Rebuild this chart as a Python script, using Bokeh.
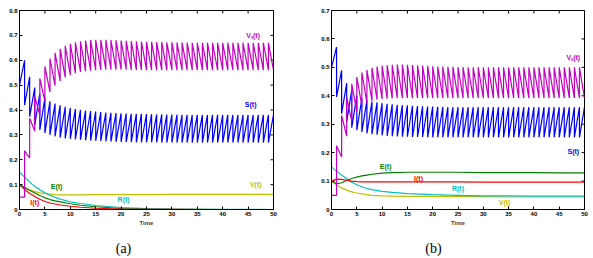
import math
from bokeh.plotting import figure
from bokeh.layouts import row, column
from bokeh.models import FixedTicker, Range1d
from bokeh.embed import file_html
from bokeh.resources import INLINE
from bokeh.core.properties import value

# ---------------- data ----------------
x_ticks = [0, 5, 10, 15, 20, 25, 30, 35, 40, 45, 50]
y_ticks_a = [0, 0.1, 0.2, 0.3, 0.4, 0.5, 0.6, 0.7, 0.8]
y_labels_a = ["0", "0.1", "0.2", "0.3", "0.4", "0.5", "0.6", "0.7", "0.8"]
y_ticks_b = [0, 0.1, 0.2, 0.3, 0.4, 0.5, 0.6, 0.7]
y_labels_b = ["0", "0.1", "0.2", "0.3", "0.4", "0.5", "0.6", "0.7"]

# impulsive series: value right after the pulse at t=k and value just before t=k+1
S_a_start = [0.500, 0.420, 0.373, 0.340, 0.320, 0.308, 0.300, 0.294, 0.289, 0.286,
             0.284, 0.282, 0.280, 0.278, 0.277, 0.276, 0.275, 0.274, 0.273, 0.272,
             0.272, 0.271, 0.271, 0.270, 0.270, 0.270, 0.270, 0.270, 0.269, 0.269,
             0.269, 0.269, 0.269, 0.269, 0.269, 0.269, 0.269, 0.269, 0.269, 0.269,
             0.269, 0.269, 0.269, 0.269, 0.269, 0.269, 0.269, 0.269, 0.269, 0.269]
S_a_end = [0.600, 0.533, 0.490, 0.467, 0.448, 0.435, 0.426, 0.419, 0.413, 0.408,
           0.404, 0.401, 0.398, 0.396, 0.394, 0.392, 0.390, 0.389, 0.388, 0.387,
           0.386, 0.385, 0.384, 0.384, 0.383, 0.383, 0.382, 0.382, 0.381, 0.381,
           0.381, 0.380, 0.380, 0.380, 0.380, 0.380, 0.380, 0.380, 0.380, 0.380,
           0.380, 0.380, 0.380, 0.380, 0.380, 0.380, 0.380, 0.380, 0.380, 0.380]
Vs_a_start = [0.050, 0.236, 0.367, 0.455, 0.527, 0.575, 0.607, 0.630, 0.646, 0.658,
              0.666, 0.672, 0.676, 0.679, 0.681, 0.682, 0.682, 0.682, 0.681, 0.680,
              0.679, 0.678, 0.677, 0.676, 0.675, 0.674, 0.674, 0.673, 0.673, 0.672,
              0.672, 0.671, 0.671, 0.671, 0.670, 0.670, 0.670, 0.670, 0.670, 0.670,
              0.670, 0.670, 0.670, 0.670, 0.670, 0.670, 0.670, 0.670, 0.670, 0.670]
Vs_a_end = [0.050, 0.207, 0.315, 0.380, 0.435, 0.472, 0.498, 0.517, 0.531, 0.541,
            0.548, 0.553, 0.556, 0.558, 0.560, 0.561, 0.562, 0.562, 0.562, 0.562,
            0.562, 0.561, 0.561, 0.561, 0.560, 0.560, 0.560, 0.560, 0.560, 0.560,
            0.560, 0.560, 0.560, 0.560, 0.560, 0.560, 0.560, 0.560, 0.560, 0.560,
            0.560, 0.560, 0.560, 0.560, 0.560, 0.560, 0.560, 0.560, 0.560, 0.560]

S_b_start = [0.500, 0.396, 0.337, 0.308, 0.288, 0.279, 0.273, 0.268, 0.265, 0.263,
             0.261, 0.259, 0.258, 0.257, 0.256, 0.256, 0.255, 0.255, 0.255, 0.254,
             0.254, 0.254, 0.254, 0.254, 0.254, 0.254, 0.254, 0.254, 0.254, 0.254,
             0.254, 0.254, 0.254, 0.254, 0.254, 0.254, 0.254, 0.254, 0.254, 0.254,
             0.254, 0.254, 0.254, 0.254, 0.254, 0.254, 0.254, 0.254, 0.254, 0.254]
S_b_end = [0.571, 0.489, 0.445, 0.420, 0.400, 0.390, 0.384, 0.380, 0.377, 0.374,
           0.372, 0.370, 0.368, 0.367, 0.366, 0.365, 0.364, 0.363, 0.362, 0.362,
           0.361, 0.361, 0.360, 0.360, 0.360, 0.360, 0.360, 0.360, 0.360, 0.360,
           0.360, 0.360, 0.360, 0.360, 0.360, 0.360, 0.360, 0.360, 0.360, 0.360,
           0.360, 0.360, 0.360, 0.360, 0.360, 0.360, 0.360, 0.360, 0.360, 0.360]
Vs_b_start = [0.050, 0.224, 0.331, 0.395, 0.442, 0.466, 0.482, 0.491, 0.498, 0.503,
              0.506, 0.508, 0.509, 0.510, 0.510, 0.509, 0.508, 0.507, 0.506, 0.505,
              0.504, 0.503, 0.503, 0.502, 0.502, 0.501, 0.501, 0.500, 0.500, 0.500,
              0.500, 0.500, 0.500, 0.500, 0.500, 0.500, 0.500, 0.500, 0.500, 0.500,
              0.500, 0.500, 0.500, 0.500, 0.500, 0.500, 0.500, 0.500, 0.500, 0.500]
Vs_b_end = [0.050, 0.185, 0.258, 0.310, 0.345, 0.365, 0.375, 0.382, 0.386, 0.389,
            0.390, 0.391, 0.392, 0.392, 0.392, 0.392, 0.392, 0.392, 0.392, 0.392,
            0.392, 0.392, 0.392, 0.392, 0.392, 0.392, 0.392, 0.392, 0.392, 0.392,
            0.392, 0.392, 0.392, 0.392, 0.392, 0.392, 0.392, 0.392, 0.392, 0.392,
            0.392, 0.392, 0.392, 0.392, 0.392, 0.392, 0.392, 0.392, 0.392, 0.392]

# smooth compartments
t_smooth = [0, 1, 2, 3, 4, 5, 6, 7, 8, 10, 12, 15, 20, 25, 30, 35, 40, 45, 50]
E_a = [0.100, 0.088, 0.077, 0.066, 0.056, 0.047, 0.040, 0.035, 0.031, 0.023, 0.017, 0.011, 0.004, 0.0015, 0.0005, 0.0002, 0, 0, 0]
I_a = [0.100, 0.080, 0.065, 0.052, 0.041, 0.032, 0.026, 0.022, 0.018, 0.013, 0.009, 0.005, 0.0015, 0.0005, 0.0002, 0, 0, 0, 0]
R_a = [0.150, 0.130, 0.110, 0.093, 0.079, 0.067, 0.057, 0.049, 0.042, 0.031, 0.024, 0.016, 0.008, 0.004, 0.002, 0.001, 0.0005, 0.0002, 0]
V_a = [0.100, 0.088, 0.079, 0.072, 0.067, 0.064, 0.062, 0.060, 0.059, 0.059, 0.059, 0.060, 0.060, 0.060, 0.061, 0.061, 0.061, 0.061, 0.061]

E_b = [0.100, 0.090, 0.094, 0.102, 0.109, 0.114, 0.118, 0.121, 0.124, 0.128, 0.130, 0.131, 0.131, 0.131, 0.130, 0.130, 0.130, 0.129, 0.129]
I_b = [0.100, 0.107, 0.106, 0.103, 0.100, 0.098, 0.097, 0.097, 0.097, 0.097, 0.097, 0.097, 0.097, 0.097, 0.096, 0.096, 0.096, 0.096, 0.096]
R_b = [0.150, 0.135, 0.121, 0.108, 0.096, 0.087, 0.080, 0.074, 0.070, 0.064, 0.060, 0.056, 0.052, 0.050, 0.048, 0.048, 0.047, 0.047, 0.047]
V_b = [0.100, 0.087, 0.076, 0.068, 0.062, 0.058, 0.055, 0.052, 0.050, 0.048, 0.047, 0.046, 0.045, 0.045, 0.045, 0.044, 0.044, 0.044, 0.044]

names = ["Vₛ(t)", "S(t)", "E(t)", "I(t)", "R(t)", "V(t)"]
label_x_a = [46.0, 45.5, 7.3, 3.0, 20.5, 46.5]
label_y_a = [0.700, 0.424, 0.092, 0.028, 0.040, 0.100]
label_x_b = [47.8, 47.8, 10.7, 17.2, 25.0, 34.2]
label_y_b = [0.535, 0.205, 0.153, 0.110, 0.075, 0.023]

captions = ["(a)", "(b)"]

C_VS, C_S, C_E, C_I, C_R, C_V = "#c400c4", "#0000ff", "#008000", "#ff0000", "#00bfbf", "#bfbf00"
colors = [C_VS, C_S, C_E, C_I, C_R, C_V]


def sawtooth(start, end):
    xs, ys = [], []
    for k in range(len(start)):
        xs += [k, k + 1]
        ys += [start[k], end[k]]
    return xs, ys


def style_axis(ax, ticker, labels=None):
    ax.ticker = ticker
    ax.major_tick_in = 3
    ax.major_tick_out = 0
    ax.minor_tick_in = 0
    ax.minor_tick_out = 0
    ax.axis_line_color = "black"
    ax.major_tick_line_color = "black"
    ax.major_label_text_font = "Liberation Sans"
    ax.major_label_text_font_style = "bold"
    ax.major_label_text_color = "black"
    ax.major_label_text_font_size = "6px"
    ax.major_label_standoff = 2
    if labels is not None:
        ax.major_label_overrides = labels


def make_panel(width, b_left, b_right, ymax, yticks, ylabels,
               S_start, S_end, Vs_start, Vs_end, E, I, R, V, lx, ly):
    p = figure(width=width, height=228, x_range=Range1d(0, 50), y_range=Range1d(0, ymax),
               output_backend="svg", toolbar_location=None,
               min_border_left=b_left, min_border_right=b_right,
               min_border_top=10, min_border_bottom=18,
               background_fill_color="white", border_fill_color="white")
    p.grid.visible = False
    p.outline_line_color = "black"
    style_axis(p.xaxis[0], FixedTicker(ticks=x_ticks))
    style_axis(p.yaxis[0], FixedTicker(ticks=yticks), {t: l for t, l in zip(yticks, ylabels)})
    p.xaxis[0].axis_label = "Time"
    p.xaxis[0].axis_label_text_font = "Liberation Sans"
    p.xaxis[0].axis_label_text_font_style = "bold"
    p.xaxis[0].axis_label_text_font_size = "6px"
    p.xaxis[0].axis_label_standoff = 1

    # mirrored inward ticks on the top and right edges (MATLAB box style)
    p.scatter(x=x_ticks, y=[ymax] * len(x_ticks), marker="dash", size=6,
              angle=math.pi / 2, line_color="black", line_width=1)
    p.scatter(x=[50] * len(yticks), y=yticks, marker="dash", size=6,
              line_color="black", line_width=1)

    for arr_x, arr_y, c in [(t_smooth, V, C_V), (t_smooth, R, C_R), (t_smooth, E, C_E),
                            (t_smooth, I, C_I)]:
        p.line(arr_x, arr_y, line_color=c, line_width=1.2)
    xs, ys = sawtooth(S_start, S_end)
    p.line(xs, ys, line_color=C_S, line_width=1.2)
    xs, ys = sawtooth(Vs_start, Vs_end)
    p.line(xs, ys, line_color=C_VS, line_width=1.2)

    p.text(x=lx, y=ly, text=names, text_color=colors, text_font=value("Liberation Sans"),
           text_font_style="bold", text_font_size="7px", text_align="center",
           text_baseline="middle")
    return p


def make_caption(width, text, cx):
    c = figure(width=width, height=29, x_range=Range1d(0, width), y_range=Range1d(0, 29),
               output_backend="svg", toolbar_location=None,
               x_axis_location=None, y_axis_location=None,
               min_border=0, min_border_left=0, min_border_right=0,
               min_border_top=0, min_border_bottom=0,
               background_fill_color="white", border_fill_color="white")
    c.grid.visible = False
    c.outline_line_color = None
    c.text(x=[cx], y=[9], text=[text], text_font=value("Liberation Serif"),
           text_font_size="14px", text_color="black", text_align="center",
           text_baseline="middle")
    return c


pa = make_panel(300, 19, 27, 0.8, y_ticks_a, y_labels_a,
                S_a_start, S_a_end, Vs_a_start, Vs_a_end, E_a, I_a, R_a, V_a,
                label_x_a, label_y_a)
pb = make_panel(292, 31, 8, 0.7, y_ticks_b, y_labels_b,
                S_b_start, S_b_end, Vs_b_start, Vs_b_end, E_b, I_b, R_b, V_b,
                label_x_b, label_y_b)
ca = make_caption(300, captions[0], 123)
cb = make_caption(292, captions[1], 133)

layout = column(row(pa, pb), row(ca, cb))
open("out.html", "w").write(file_html(layout, INLINE))
